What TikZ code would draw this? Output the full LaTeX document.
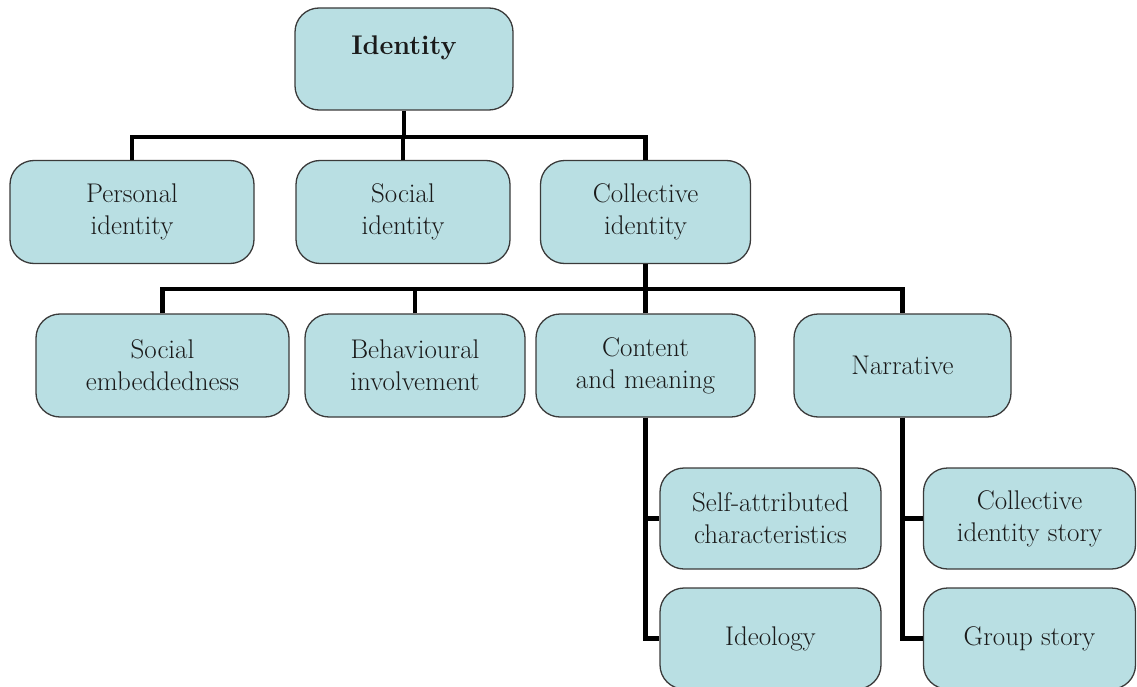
\documentclass[tikz,border=0pt]{standalone}
\usetikzlibrary{positioning}
\definecolor{boxfill}{HTML}{B9DFE3}
\definecolor{boxdraw}{HTML}{3A3A3A}
\definecolor{txt}{HTML}{1A1A1A}
\begin{document}
\begin{tikzpicture}[x=1pt,y=-1pt,
  box/.style={draw=boxdraw, line width=1.3pt, fill=boxfill, rounded corners=24pt,
    inner sep=0pt, align=center, text=txt, font=\fontsize{27}{32}\selectfont,
    minimum height=103pt},
  conn/.style={line width=4.6pt, line join=miter, draw=black}]
\useasboundingbox (0,0) rectangle (1137,687);
% level 0
\node[box, minimum width=218pt, minimum height=102pt] (id) at (404,59) {};
\node[text=txt, font=\fontsize{27}{32}\selectfont\bfseries] (idtxt) at (404,48) {Identity};
% level 1
\node[box, minimum width=244pt] (personal) at (132,212) {Personal\\identity};
\node[box, minimum width=214pt] (social) at (403,212) {Social\\identity};
\node[box, minimum width=210pt] (collective) at (645.5,212) {Collective\\identity};
% level 2
\node[box, minimum width=253pt] (embed) at (162.5,365.5) {Social\\embeddedness};
\node[box, minimum width=220pt] (behav) at (415,365.5) {Behavioural\\involvement};
\node[box, minimum width=219pt] (content) at (645.5,365.5) {Content\\and meaning};
\node[box, minimum width=217pt] (narr) at (902.5,365.5) {Narrative};
% level 3
\node[box, minimum width=221pt, minimum height=101pt] (self) at (770.5,518.5) {Self-attributed\\characteristics};
\node[box, minimum width=212pt, minimum height=101pt] (cis) at (1029.5,518.5) {Collective\\identity story};
\node[box, minimum width=221pt, minimum height=101pt] (ideo) at (770.5,638.5) {Ideology};
\node[box, minimum width=212pt, minimum height=101pt] (group) at (1029.5,638.5) {Group story};
% connectors
\coordinate (j1) at (404,137);
\coordinate (j2) at (645.5,289);
\draw[conn] (id.south) -- (j1);
\draw[conn] (personal.north) -- (personal.north |- j1) -- (collective.north |- j1) -- (collective.north);
\draw[conn] (social.north) -- (social.north |- j1);
\draw[conn] (collective.south) -- (j2);
\draw[conn] (embed.north) -- (embed.north |- j2) -- (narr.north |- j2) -- (narr.north);
\draw[conn] (behav.north) -- (behav.north |- j2);
\draw[conn] (content.north) -- (content.north |- j2);
\draw[conn] (content.south) |- (self.west);
\draw[conn] (content.south) |- (ideo.west);
\draw[conn] (narr.south) |- (cis.west);
\draw[conn] (narr.south) |- (group.west);
\end{tikzpicture}
\end{document}
